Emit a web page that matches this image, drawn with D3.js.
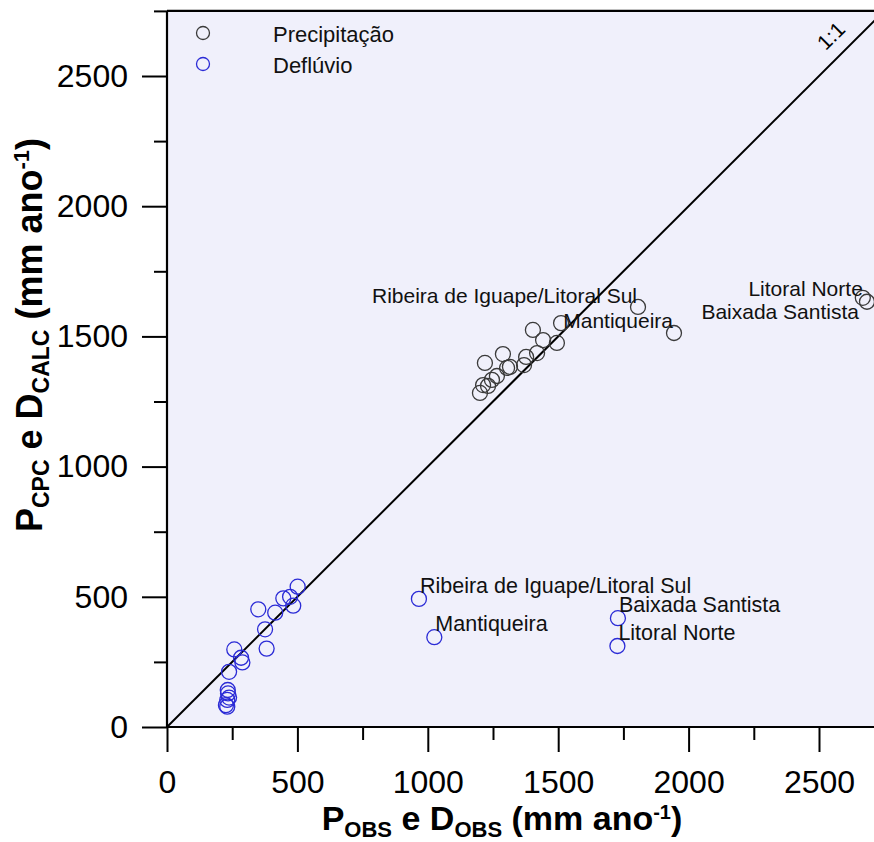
<!DOCTYPE html>
<html><head><meta charset="utf-8">
<script src="https://cdn.jsdelivr.net/npm/d3@7"></script>
<style>
html,body{margin:0;padding:0;background:#fff;}
svg text{font-family:"Liberation Sans",Arial,sans-serif;}
</style></head>
<body><svg id="c" width="874" height="842"></svg>
<script>
// ---- data ----
const precipObs  = [1200,1212,1219,1231,1246,1265,1288,1304,1315,1369,1377,1403,1419,1442,1495,1511,1806,1944,2668,2684];
const precipCalc = [1283,1313,1398,1310,1333,1348,1432,1379,1383,1390,1421,1525,1436,1486,1475,1551,1613,1513,1648,1633];
const runoffObs  = [226,231,231,234,238,233,238,258,284,289,350,376,382,415,446,472,484,501,966,1025,1729,1727];
const runoffCalc = [84,78,104,129,113,142,212,298,266,248,452,375,301,439,494,500,466,539,492,345,418,311];
const precipLabels = [
  {name:"Ribeira de Iguape/Litoral Sul", x:1806, y:1613},
  {name:"Mantiqueira", x:1944, y:1513},
  {name:"Litoral Norte", x:2668, y:1648},
  {name:"Baixada Santista", x:2684, y:1633}
];
const runoffLabels = [
  {name:"Ribeira de Iguape/Litoral Sul", x:966, y:492},
  {name:"Mantiqueira", x:1025, y:345},
  {name:"Baixada Santista", x:1729, y:418},
  {name:"Litoral Norte", x:1727, y:311}
];
const seriesNames = ["Precipitação","Deflúvio"];
const tickMajor = [0,500,1000,1500,2000,2500];
const tickMinor = [250,750,1250,1750,2250,2750];

// ---- layout ----
const svg = d3.select("#c");
const L = 167, B = 727;
const x = d3.scaleLinear().domain([0,2750]).range([L, L+2750*0.2608]);
const y = d3.scaleLinear().domain([0,2750]).range([B, B-2750*0.2604]);
const blk = "#3a3a3a", blue = "#2b2bd6";

// plot background
svg.append("rect").attr("x",L).attr("y",y(2750)).attr("width",x(2750)-L).attr("height",B-y(2750))
  .attr("fill","#f0f0fb");

// 1:1 line
svg.append("line").attr("x1",x(0)).attr("y1",y(0)).attr("x2",x(2750)).attr("y2",y(2750))
  .attr("stroke","#000").attr("stroke-width",2);
// 1:1 label
const lv = 2600;
svg.append("text").attr("transform",`translate(${x(lv)-9},${y(lv)-9}) rotate(-45)`)
  .attr("text-anchor","middle").attr("font-size",21).attr("fill","#000").text("1:1");

// points
const r = 7.5;
svg.append("g").selectAll("circle").data(precipObs.map((d,i)=>[d,precipCalc[i]])).join("circle")
  .attr("cx",d=>x(d[0])).attr("cy",d=>y(d[1])).attr("r",r)
  .attr("fill","none").attr("stroke",blk).attr("stroke-width",1.3);
svg.append("g").selectAll("circle").data(runoffObs.map((d,i)=>[d,runoffCalc[i]])).join("circle")
  .attr("cx",d=>x(d[0])).attr("cy",d=>y(d[1])).attr("r",r)
  .attr("fill","none").attr("stroke",blue).attr("stroke-width",1.3);

// labels
const pOff = {"Ribeira de Iguape/Litoral Sul":[-1,-4],"Mantiqueira":[-1,-5],"Litoral Norte":[0,-2],"Baixada Santista":[-8,17]};
svg.append("g").selectAll("text").data(precipLabels).join("text")
  .attr("x",d=>x(d.x)+pOff[d.name][0]).attr("y",d=>y(d.y)+pOff[d.name][1])
  .attr("text-anchor","end").attr("font-size",21).attr("fill","#111").text(d=>d.name);
svg.append("g").selectAll("text").data(runoffLabels).join("text")
  .attr("x",d=>x(d.x)+1).attr("y",d=>y(d.y)-6)
  .attr("text-anchor","start").attr("font-size",21.5).attr("fill","#111").text(d=>d.name);

// axes
function styleAxis(g){
  g.select(".domain").remove();
  g.selectAll("line").attr("stroke","#000").attr("stroke-width",2);
  g.selectAll("text").attr("font-size",32).attr("fill","#000");
}
svg.append("g").attr("transform",`translate(0,${B})`)
  .call(d3.axisBottom(x).tickValues(tickMajor).tickSize(25).tickPadding(18).tickFormat(d3.format("d"))).call(styleAxis);
svg.append("g").attr("transform",`translate(0,${B})`)
  .call(d3.axisBottom(x).tickValues(tickMinor).tickSize(13).tickFormat("")).call(styleAxis);
svg.append("g").attr("transform",`translate(${L},0)`)
  .call(d3.axisLeft(y).tickValues(tickMajor).tickSize(25).tickPadding(14).tickFormat(d3.format("d"))).call(styleAxis);
svg.append("g").attr("transform",`translate(${L},0)`)
  .call(d3.axisLeft(y).tickValues(tickMinor).tickSize(13).tickFormat("")).call(styleAxis);
// axis lines (frame left, bottom, top)
svg.append("line").attr("x1",L).attr("x2",L).attr("y1",y(2750)).attr("y2",B).attr("stroke","#000").attr("stroke-width",2.2);
svg.append("line").attr("x1",L).attr("x2",874).attr("y1",B).attr("y2",B).attr("stroke","#000").attr("stroke-width",2.2);
svg.append("line").attr("x1",L).attr("x2",874).attr("y1",y(2750)).attr("y2",y(2750)).attr("stroke","#000").attr("stroke-width",2.2);

// legend
const leg = svg.append("g");
[[seriesNames[0],blk],[seriesNames[1],blue]].forEach((s,i)=>{
  leg.append("circle").attr("cx",203).attr("cy",33+i*31).attr("r",6.5)
    .attr("fill","none").attr("stroke",s[1]).attr("stroke-width",1.3);
  leg.append("text").attr("x",273).attr("y",42+i*31).attr("font-size",22).attr("fill","#111").text(s[0]);
});

// axis titles
const xt = svg.append("text").attr("x",502).attr("y",830).attr("text-anchor","middle")
  .attr("font-size",34).attr("font-weight","bold").attr("fill","#000");
xt.append("tspan").text("P");
xt.append("tspan").attr("font-size",22).attr("dy",7).text("OBS");
xt.append("tspan").attr("dy",-7).text(" e D");
xt.append("tspan").attr("font-size",22).attr("dy",7).text("OBS");
xt.append("tspan").attr("dy",-7).text(" (mm ano");
xt.append("tspan").attr("font-size",20).attr("dy",-11).text("-1");
xt.append("tspan").attr("dy",11).text(")");

const yt = svg.append("text").attr("transform","translate(42,335) rotate(-90)").attr("text-anchor","middle")
  .attr("font-size",36).attr("font-weight","bold").attr("fill","#000");
yt.append("tspan").text("P");
yt.append("tspan").attr("font-size",23).attr("dy",7).text("CPC");
yt.append("tspan").attr("dy",-7).text(" e D");
yt.append("tspan").attr("font-size",23).attr("dy",7).text("CALC");
yt.append("tspan").attr("dy",-7).text(" (mm ano");
yt.append("tspan").attr("font-size",22).attr("dy",-13).text("-1");
yt.append("tspan").attr("dy",13).text(")");
</script></body></html>
